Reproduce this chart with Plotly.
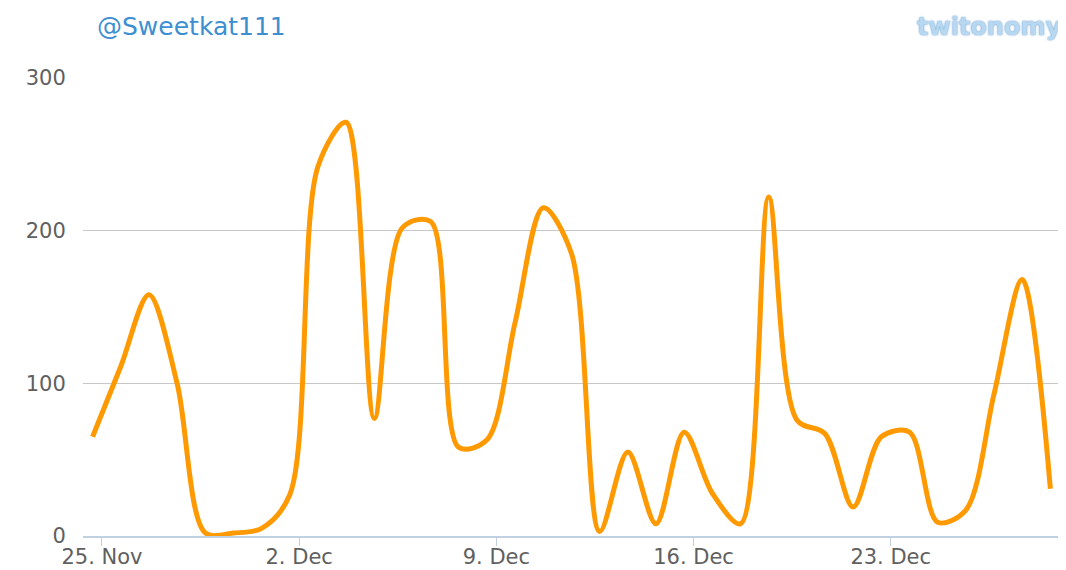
import plotly.graph_objects as go
import pandas as pd

# ---- data ----
start_time = "2012-11-24 16:00"
tweets_per_day = [65, 111, 158, 100, 2, 2, 5, 27, 242, 271,
                  77, 202, 206, 58, 63, 140, 215, 185, 3, 55,
                  8, 68, 28, 8, 222, 76, 67, 19, 65, 68,
                  9, 17, 93, 168, 31]
dates = pd.date_range(start=start_time, periods=len(tweets_per_day), freq="D")

x_tick_dates = ["2012-11-25", "2012-12-02", "2012-12-09", "2012-12-16", "2012-12-23"]
x_tick_labels = ["25. Nov", "2. Dec", "9. Dec", "16. Dec", "23. Dec"]
y_tick_vals = [0, 100, 200, 300]
y_tick_labels = ["0", "100", "200", "300"]
title_text = "@Sweetkat111"
logo_text = "twitonomy"

W, H = 1066, 570
OFF = 8  # page body margin offset
ML, MT = 83 - OFF, 78 - OFF
MR = W - (1058 - OFF)
MB = H - (536 - OFF)
plot_w = W - ML - MR
plot_h = H - MT - MB

fig = go.Figure()
fig.add_trace(go.Scatter(
    x=dates, y=tweets_per_day, mode="lines",
    line=dict(color="#FF9900", width=5, shape="spline", smoothing=0.9),
    hoverinfo="x+y", showlegend=False,
))

fig.update_layout(
    width=W, height=H,
    margin=dict(l=ML, r=MR, t=MT, b=MB, autoexpand=False),
    paper_bgcolor="white", plot_bgcolor="white",
    font=dict(family="DejaVu Sans", color="#606060"),
    xaxis=dict(
        type="date", automargin=False,
        range=["2012-11-24 07:50", "2012-12-28 22:30"],
        tickvals=x_tick_dates, ticktext=x_tick_labels,
        showgrid=False, zeroline=False,
        showline=True, linecolor="#C0D0E0", linewidth=2,
        ticks="outside", ticklen=8, tickcolor="#C0D0E0", tickwidth=1,
        ticklabelstandoff=-7,
        tickfont=dict(size=21, color="#606060", family="DejaVu Sans"),
    ),
    yaxis=dict(
        range=[0, 300], automargin=False,
        tickvals=y_tick_vals, ticktext=y_tick_labels,
        showgrid=True, gridcolor="#C8C8C8", gridwidth=1,
        zeroline=False, showline=False,
        ticks="outside", ticklen=12, tickcolor="rgba(0,0,0,0)",
        tickfont=dict(size=21, color="#606060", family="DejaVu Sans"),
    ),
    annotations=[
        dict(text=title_text, xref="paper", yref="paper",
             x=(95 - OFF - ML) / plot_w, y=1 + (MT - (27 - OFF)) / plot_h,
             xanchor="left", yanchor="middle", showarrow=False,
             font=dict(size=25, color="#3D8FD1", family="DejaVu Sans")),
        dict(text=logo_text, xref="paper", yref="paper",
             x=(1063 - OFF - ML) / plot_w, y=1 + (MT - (27 - OFF)) / plot_h,
             xanchor="right", yanchor="middle", showarrow=False,
             font=dict(size=24, color="#B8D7F0", family="DejaVu Sans", weight="bold",
                       shadow="0px 0px 2px #4F8FCF")),
    ],
)

fig.write_html("out.html")
